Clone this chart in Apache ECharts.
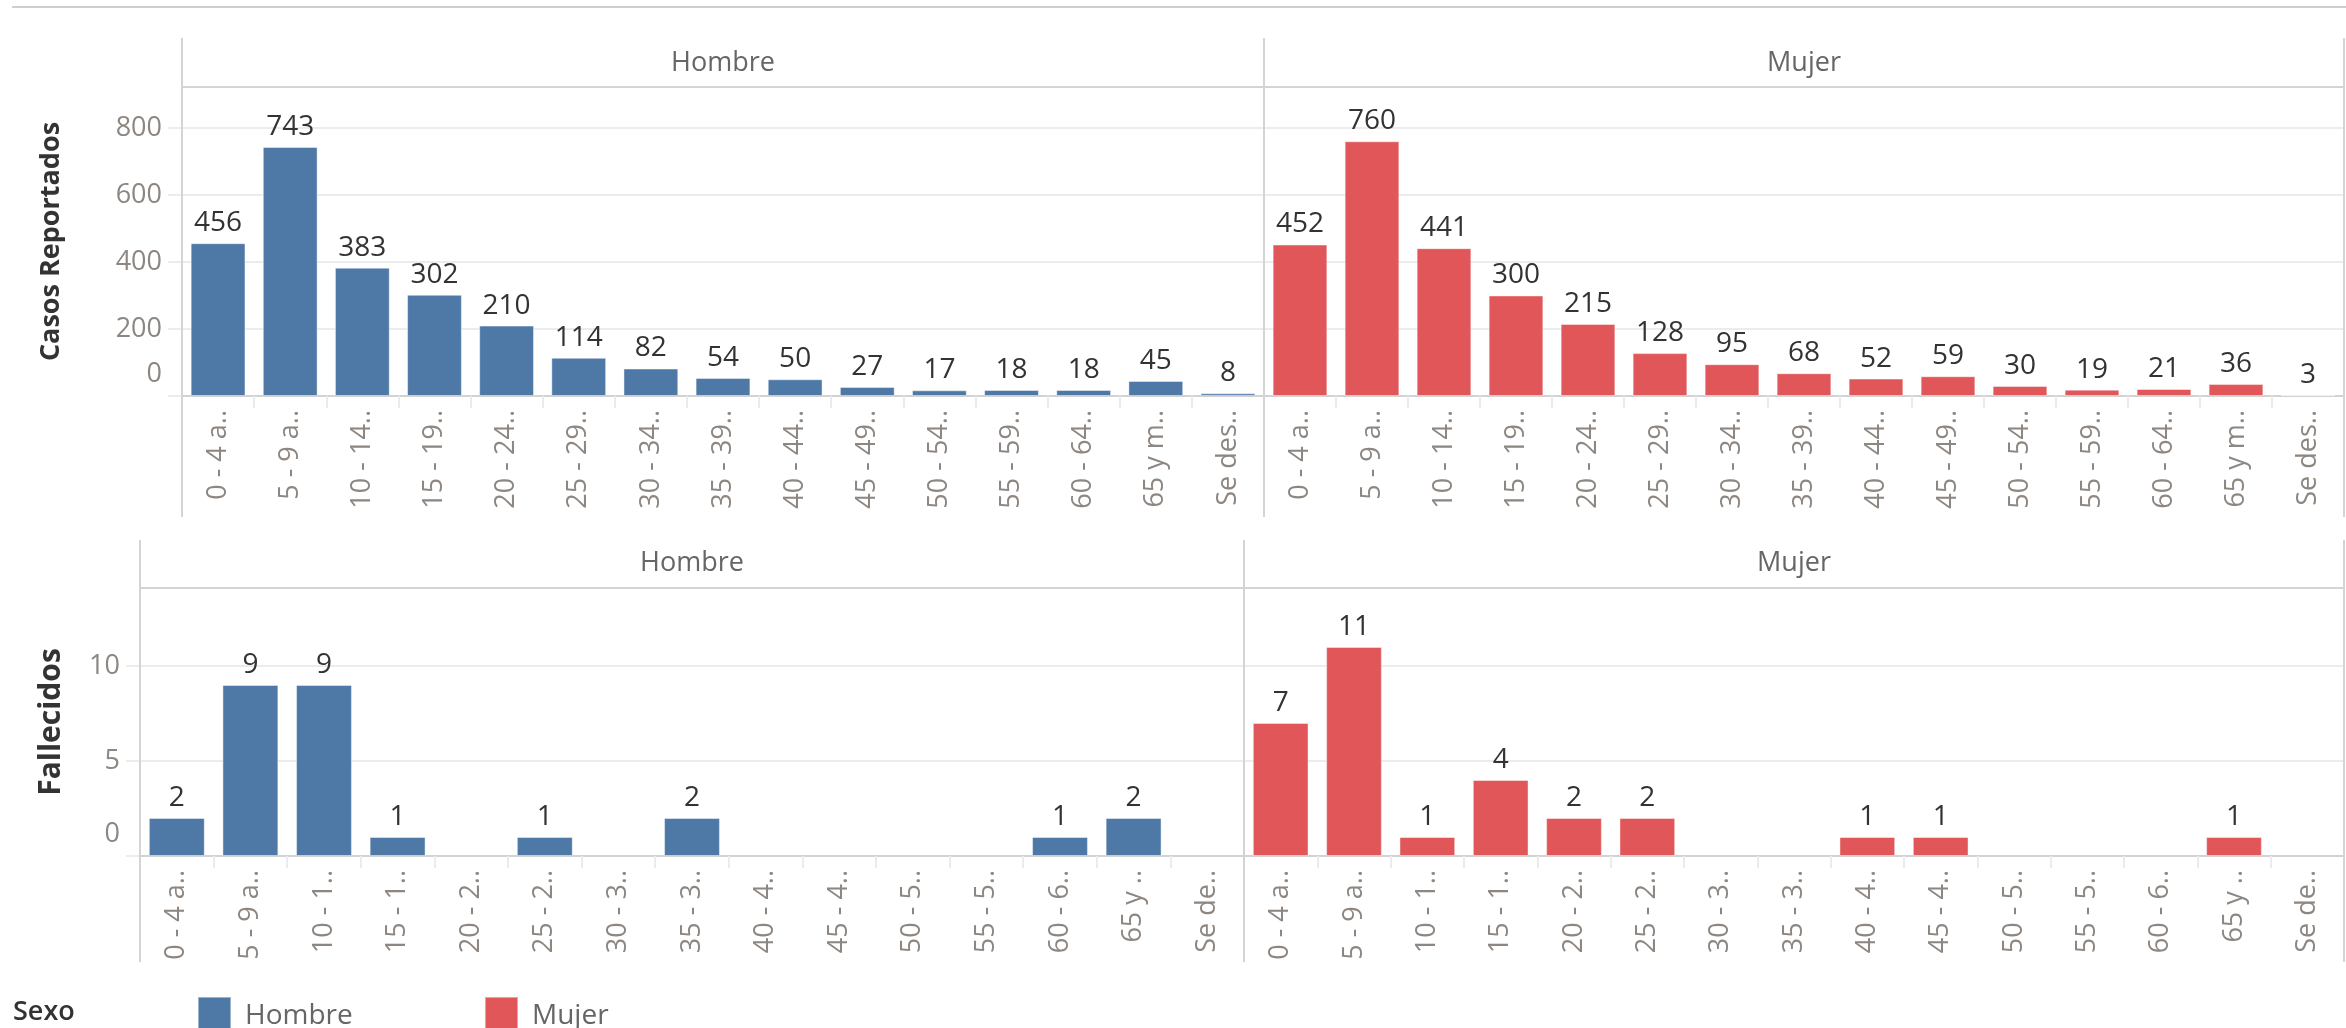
<!DOCTYPE html>
<html>
<head>
<meta charset="utf-8">
<script src="https://cdn.jsdelivr.net/npm/echarts@6/dist/echarts.min.js"></script>
<style>
  html, body { margin: 0; padding: 0; background: #fff; }
  #chart { width: 2346px; height: 1028px; }
</style>
</head>
<body>
<div id="chart"></div>
<script>
// categorías de edad
const ageGroups = ['0 - 4 años', '5 - 9 años', '10 - 14 años', '15 - 19 años', '20 - 24 años',
  '25 - 29 años', '30 - 34 años', '35 - 39 años', '40 - 44 años', '45 - 49 años',
  '50 - 54 años', '55 - 59 años', '60 - 64 años', '65 y más', 'Se desconoce']

// etiquetas recortadas como aparecen en cada fila
const casosTickLabels = ['0 - 4 a..', '5 - 9 a..', '10 - 14..', '15 - 19..', '20 - 24..',
  '25 - 29..', '30 - 34..', '35 - 39..', '40 - 44..', '45 - 49..',
  '50 - 54..', '55 - 59..', '60 - 64..', '65 y m..', 'Se des..']
const fallecidosTickLabels = ['0 - 4 a..', '5 - 9 a..', '10 - 1..', '15 - 1..', '20 - 2..',
  '25 - 2..', '30 - 3..', '35 - 3..', '40 - 4..', '45 - 4..',
  '50 - 5..', '55 - 5..', '60 - 6..', '65 y ..', 'Se de..']

const casosHombre = [456, 743, 383, 302, 210, 114, 82, 54, 50, 27, 17, 18, 18, 45, 8]
const casosMujer = [452, 760, 441, 300, 215, 128, 95, 68, 52, 59, 30, 19, 21, 36, 3]
const fallecidosHombre = [2, 9, 9, 1, null, 1, null, 2, null, null, null, null, 1, 2, null]
const fallecidosMujer = [7, 11, 1, 4, 2, 2, null, null, 1, 1, null, null, null, 1, null]

const casosTicks = { min: 0, max: 922, interval: 200 }
const fallecidosTicks = { min: 0, max: 14.1, interval: 5 }

const BLUE = '#4e79a7'
const RED = '#e15759'
const FONT = '"Open Sans", "DejaVu Sans", sans-serif'
const TICK_COLOR = '#8d8681'
const BORDER = '#d4d4d4'
const GRIDLINE = '#ececec'

const chart = echarts.init(document.getElementById('chart'))

const grids = [
  { left: 182, top: 87, width: 1082, height: 309 },
  { left: 1264, top: 87, width: 1080, height: 309 },
  { left: 140, top: 588, width: 1104, height: 268 },
  { left: 1244, top: 588, width: 1100, height: 268 }
]

const makeXAxis = (gridIndex, labels) => ({
  type: 'category',
  gridIndex,
  data: ageGroups,
  axisLine: { show: true, lineStyle: { color: '#d2d2d2', width: 2 } },
  axisTick: { show: true, interval: 0, length: 12, lineStyle: { color: '#ebebeb', width: 2 } },
  axisLabel: {
    interval: 0,
    rotate: 90,
    margin: 14,
    color: TICK_COLOR,
    fontFamily: FONT,
    fontSize: 27,
    formatter: (value, idx) => labels[idx]
  }
})

const makeYAxis = (gridIndex, ticks, name, nameGap, nameSize) => ({
  type: 'value',
  gridIndex,
  min: ticks.min,
  max: ticks.max,
  interval: ticks.interval,
  name,
  nameLocation: 'middle',
  nameRotate: 90,
  nameGap,
  nameTextStyle: { color: '#333', fontFamily: FONT, fontSize: nameSize, fontWeight: 'bold' },
  axisLine: { show: false },
  axisTick: { show: !!name, length: 14, lineStyle: { color: GRIDLINE, width: 2 } },
  splitLine: { show: true, lineStyle: { color: GRIDLINE, width: 2 } },
  axisLabel: {
    show: !!name,
    showMaxLabel: false,
    margin: 20,
    color: TICK_COLOR,
    fontFamily: FONT,
    fontSize: 27,
    formatter: (v) => (v === 0 ? '{z|0}' : String(v)),
    rich: {
      z: { color: TICK_COLOR, fontFamily: FONT, fontSize: 27, padding: [0, 0, 44, 0] }
    }
  }
})

const makeSeries = (name, idx, data, color) => ({
  name,
  type: 'bar',
  xAxisIndex: idx,
  yAxisIndex: idx,
  data,
  barCategoryGap: '24%',
  itemStyle: { color, borderColor: 'rgba(255,255,255,0.45)', borderWidth: 1 },
  label: {
    show: true,
    position: 'top',
    distance: 6,
    color: '#333',
    fontFamily: FONT,
    fontSize: 28
  }
})

const vLine = (x, y1, y2) => ({
  type: 'line',
  shape: { x1: x, y1, x2: x, y2 },
  style: { stroke: BORDER, lineWidth: 2 },
  z: 10
})
const hLine = (y, x1, x2, color) => ({
  type: 'line',
  shape: { x1, y1: y, x2, y2: y },
  style: { stroke: color || BORDER, lineWidth: 2 },
  z: 10
})
const header = (text, x, y) => ({
  type: 'text',
  x,
  y,
  style: {
    text,
    fill: '#666',
    font: '27px ' + FONT,
    textAlign: 'center',
    textVerticalAlign: 'middle'
  }
})

const legendStyle = {
  top: 991,
  icon: 'rect',
  itemWidth: 33,
  itemHeight: 38,
  selectedMode: false,
  textStyle: { color: '#666', fontFamily: FONT, fontSize: 28, padding: [0, 0, 0, 9] }
}

chart.setOption({
  animation: false,
  grid: grids,
  xAxis: [
    makeXAxis(0, casosTickLabels),
    makeXAxis(1, casosTickLabels),
    makeXAxis(2, fallecidosTickLabels),
    makeXAxis(3, fallecidosTickLabels)
  ],
  yAxis: [
    makeYAxis(0, casosTicks, 'Casos Reportados', 117, 27),
    makeYAxis(1, casosTicks, '', 0, 27),
    makeYAxis(2, fallecidosTicks, 'Fallecidos', 74, 30),
    makeYAxis(3, fallecidosTicks, '', 0, 30)
  ],
  legend: [
    Object.assign({ data: ['Hombre'], left: 192 }, legendStyle),
    Object.assign({ data: ['Mujer'], left: 479 }, legendStyle)
  ],
  graphic: [
    hLine(7, 12, 2346, '#cfcfcf'),
    vLine(182, 38, 517),
    vLine(1264, 38, 517),
    vLine(2344, 38, 517),
    hLine(87, 182, 2344),
    vLine(140, 540, 962),
    vLine(1244, 540, 962),
    vLine(2344, 540, 962),
    hLine(588, 140, 2344),
    header('Hombre', 723, 63),
    header('Mujer', 1804, 63),
    header('Hombre', 692, 563),
    header('Mujer', 1794, 563),
    {
      type: 'text',
      x: 13,
      y: 1012,
      style: { text: 'Sexo', fill: '#333', font: '600 27px ' + FONT, textVerticalAlign: 'middle' }
    }
  ],
  series: [
    makeSeries('Hombre', 0, casosHombre, BLUE),
    makeSeries('Mujer', 1, casosMujer, RED),
    makeSeries('Hombre', 2, fallecidosHombre, BLUE),
    makeSeries('Mujer', 3, fallecidosMujer, RED)
  ]
})
</script>
</body>
</html>
